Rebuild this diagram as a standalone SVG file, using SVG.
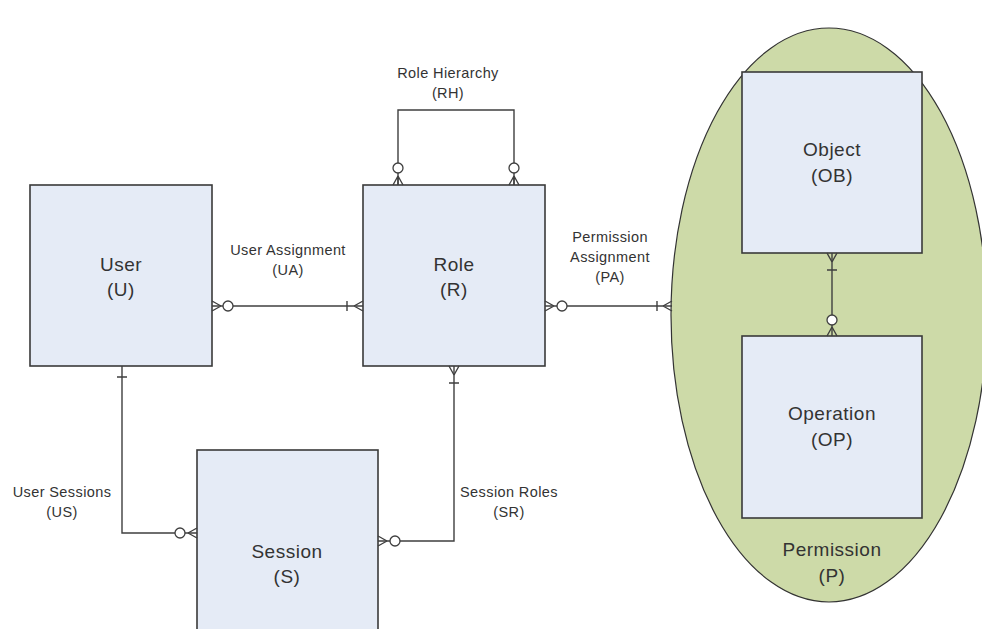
<svg xmlns="http://www.w3.org/2000/svg" width="982" height="629" viewBox="0 0 982 629">
<style>
.box{fill:#e5ebf6;stroke:#3a3a3a;stroke-width:1.6}
.big{font-family:"Liberation Sans",Arial,sans-serif;font-size:19px;letter-spacing:0.5px;fill:#333;text-anchor:middle}
.sm{font-family:"Liberation Sans",Arial,sans-serif;font-size:14.5px;letter-spacing:0.4px;fill:#333;text-anchor:middle}
.ln{fill:none;stroke:#3f3f3f;stroke-width:1.4}
.ci{fill:#fff;stroke:#3f3f3f;stroke-width:1.3}
</style>
<rect width="982" height="629" fill="#fff"/>
<g id="permission">
<ellipse cx="829" cy="315" rx="158" ry="287" fill="#cddaa8" stroke="#333" stroke-width="1.2"/>
<text class="big" x="832" y="556">Permission</text>
<text class="big" x="832" y="582">(P)</text>
</g>
<g id="user">
<rect class="box" x="30" y="185" width="182" height="181"/>
<text class="big" x="121" y="271">User</text>
<text class="big" x="121" y="296">(U)</text>
</g>
<g id="role">
<rect class="box" x="363" y="185" width="182" height="181"/>
<text class="big" x="454" y="271">Role</text>
<text class="big" x="454" y="296">(R)</text>
</g>
<g id="session">
<rect class="box" x="197" y="450" width="181" height="190"/>
<text class="big" x="287" y="558">Session</text>
<text class="big" x="287" y="583">(S)</text>
</g>
<g id="object">
<rect class="box" x="742" y="72" width="180" height="181"/>
<text class="big" x="832" y="156">Object</text>
<text class="big" x="832" y="182">(OB)</text>
</g>
<g id="operation">
<rect class="box" x="742" y="336" width="180" height="182"/>
<text class="big" x="832" y="420">Operation</text>
<text class="big" x="832" y="446">(OP)</text>
</g>
<g id="connectors">
<!-- RH -->
<path class="ln" d="M398,185 V110 H514 V185"/>
<path class="ln" d="M398,176 L393,185 M398,176 V185 M398,176 L403,185 M514,176 L509,185 M514,176 V185 M514,176 L519,185"/>
<circle class="ci" cx="398" cy="168" r="5"/>
<circle class="ci" cx="514" cy="168" r="5"/>
<!-- UA -->
<path class="ln" d="M212,306 H363"/>
<path class="ln" d="M221,306 L212,301 M221,306 L212,311 M347,301 V311 M354,306 L363,301 M354,306 L363,311"/>
<circle class="ci" cx="228" cy="306" r="5"/>
<!-- PA -->
<path class="ln" d="M545,306 H672"/>
<path class="ln" d="M554,306 L545,301 M554,306 L545,311 M657,301 V311 M663,306 L672,301 M663,306 L672,311"/>
<circle class="ci" cx="562" cy="306" r="5"/>
<!-- US -->
<path class="ln" d="M122,366 V533 H197"/>
<path class="ln" d="M117,377 H127 M188,533 L197,528 M188,533 L197,538"/>
<circle class="ci" cx="180" cy="533" r="5"/>
<!-- SR -->
<path class="ln" d="M454,366 V541 H378"/>
<path class="ln" d="M454,375 L449,366 M454,375 L459,366 M449,383 H459 M387,541 L378,536 M387,541 L378,546"/>
<circle class="ci" cx="395" cy="541" r="5"/>
<!-- OB-OP -->
<path class="ln" d="M832,253 V336"/>
<path class="ln" d="M832,262 L827,253 M832,262 L837,253 M827,270 H837 M832,327 L827,336 M832,327 L837,336"/>
<circle class="ci" cx="832" cy="320" r="5"/>
</g>
<g id="labels">
<text class="sm" x="448" y="78">Role Hierarchy</text>
<text class="sm" x="448" y="98">(RH)</text>
<text class="sm" x="288" y="255">User Assignment</text>
<text class="sm" x="288" y="275">(UA)</text>
<text class="sm" x="610" y="242">Permission</text>
<text class="sm" x="610" y="262">Assignment</text>
<text class="sm" x="610" y="282">(PA)</text>
<text class="sm" x="62" y="497">User Sessions</text>
<text class="sm" x="62" y="517">(US)</text>
<text class="sm" x="509" y="497">Session Roles</text>
<text class="sm" x="509" y="517">(SR)</text>
</g>
</svg>
